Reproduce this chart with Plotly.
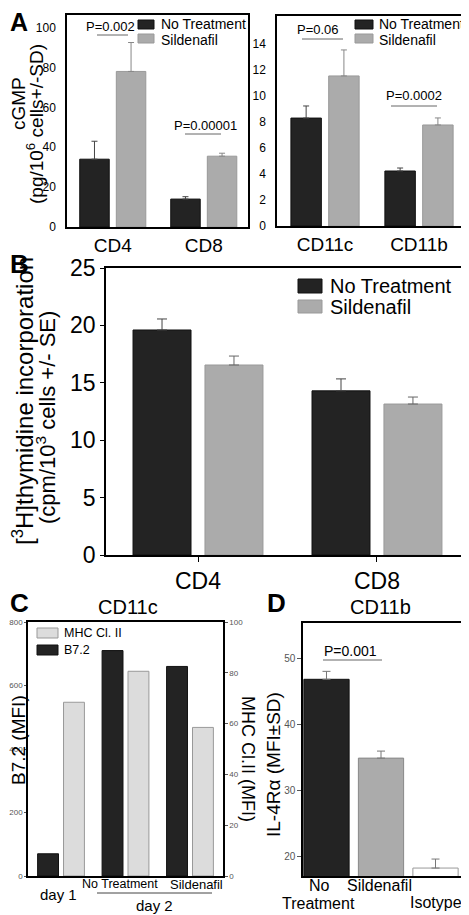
import plotly.graph_objects as go

# the page body has an 8 px default margin; the figure is sized so it fits the 469x915 window
PAGE_OFF = 8
W, H = 469 - PAGE_OFF, 915 - PAGE_OFF

# ---------------- data ----------------
# Panel A (left): cGMP in T cells
a_t_cats = ["CD4", "CD8"]
a_t_nt = [34, 14]
a_t_nt_err = [9, 1.2]
a_t_sil = [78, 35.5]
a_t_sil_err = [14.5, 1.5]

# Panel A (right): cGMP in myeloid cells
a_m_cats = ["CD11c", "CD11b"]
a_m_nt = [8.3, 4.23]
a_m_nt_err = [0.93, 0.23]
a_m_sil = [11.54, 7.77]
a_m_sil_err = [2.0, 0.54]

# Panel B: thymidine incorporation
b_cats = ["CD4", "CD8"]
b_nt = [19.6, 14.3]
b_nt_err = [0.96, 1.04]
b_sil = [16.55, 13.15]
b_sil_err = [0.78, 0.61]

# Panel C: CD11c, B7.2 (left axis) and MHC Cl. II (right axis)
c_cats = ["day 1", "No Treatment", "Sildenafil"]
c_b72 = [70, 710, 660]
c_mhc = [68.4, 80.6, 58.5]

# Panel D: CD11b IL-4Ra
d_cats = ["No Treatment", "Sildenafil", "Isotype"]
d_vals = [46.8, 34.9, 18.3]
d_err = [1.2, 1.06, 1.36]

BLACK = "#232323"
GREY = "#ababab"
LIGHT = "#dcdcdc"
FONT = "Liberation Sans, Arial, sans-serif"


def px(x):
    return (x - PAGE_OFF) / W


def py(y):
    return 1 - (y - PAGE_OFF) / H


fig = go.Figure()


def bar(x, y, err, color, line, errcolor, xa, ya, offset, width, caps=3):
    kw = {}
    if err is not None:
        kw["error_y"] = dict(type="data", array=err, arrayminus=[0] * len(err), symmetric=False,
                             color=errcolor, thickness=1, width=caps)
    fig.add_trace(go.Bar(x=x, y=y, marker=dict(color=color, line=dict(color=line, width=1)),
                         xaxis=xa, yaxis=ya, offset=offset, width=width, showlegend=False, **kw))


BW = 0.324
OFF_L = -0.363
OFF_R = 0.039

bar(a_t_cats, a_t_nt, a_t_nt_err, BLACK, "#111", "#444", "x", "y", OFF_L, BW)
bar(a_t_cats, a_t_sil, a_t_sil_err, GREY, "#999", "#888", "x", "y", OFF_R, BW)
bar(a_m_cats, a_m_nt, a_m_nt_err, BLACK, "#111", "#444", "x2", "y2", OFF_L, BW)
bar(a_m_cats, a_m_sil, a_m_sil_err, GREY, "#999", "#888", "x2", "y2", OFF_R, BW)
bar(b_cats, b_nt, b_nt_err, BLACK, "#111", "#444", "x3", "y3", OFF_L, BW, caps=5)
bar(b_cats, b_sil, b_sil_err, GREY, "#999", "#666", "x3", "y3", OFF_R, BW, caps=5)
bar(c_cats, c_b72, None, BLACK, "#111", None, "x4", "y4", OFF_L, BW)
bar(c_cats, c_mhc, None, LIGHT, "#999", None, "x4", "y5", OFF_R, BW)
fig.add_trace(go.Bar(x=d_cats, y=d_vals,
                     marker=dict(color=[BLACK, GREY, "white"], line=dict(color=["#111", "#888", "#999"], width=1)),
                     error_y=dict(type="data", array=d_err, arrayminus=[0, 0, 0], symmetric=False,
                                  color="#777", thickness=1, width=4),
                     xaxis="x5", yaxis="y6", offset=-0.415, width=0.83, showlegend=False))

axline = dict(showline=True, linecolor="black", linewidth=1.5, mirror=True, showgrid=False, zeroline=False,
              automargin=False)

fig.update_layout(
    width=W, height=H, margin=dict(l=0, r=0, t=0, b=0, autoexpand=False),
    paper_bgcolor="white", plot_bgcolor="white",
    barmode="overlay", font=dict(family=FONT, color="black"),
    showlegend=False,
    xaxis=dict(domain=[px(67), px(248)], anchor="y", range=[-0.503, 1.486], type="category",
               tickfont=dict(size=19), ticks="", **axline),
    yaxis=dict(domain=[py(227), py(15)], anchor="x", range=[0, 106.3], tickvals=[0, 20, 40, 60, 80, 100],
               tickfont=dict(size=12), ticks="", ticklabelstandoff=7, **axline),
    xaxis2=dict(domain=[px(277), px(466)], anchor="y2", range=[-0.511, 1.5], type="category",
                tickfont=dict(size=19), ticks="", **axline),
    yaxis2=dict(domain=[py(226), py(16)], anchor="x2", range=[0, 16.15], tickvals=list(range(0, 15, 2)),
                tickfont=dict(size=12), ticks="", ticklabelstandoff=7, **axline),
    xaxis3=dict(domain=[px(106), px(467)], anchor="y3", range=[-0.514, 1.503], type="category",
                tickfont=dict(size=23), ticks="outside", ticklen=5, tickcolor="black", **axline),
    yaxis3=dict(domain=[py(555), py(268)], anchor="x3", range=[0, 25], tickvals=[0, 5, 10, 15, 20, 25],
                tickfont=dict(size=23), ticks="outside", ticklen=4, tickcolor="black", **axline),
    xaxis4=dict(domain=[px(28), px(223)], anchor="y4", range=[-0.512, 2.512], type="category",
                showticklabels=False, ticks="", **axline),
    yaxis4=dict(domain=[py(876), py(622)], anchor="x4", range=[0, 800], tickvals=[0, 200, 400, 600, 800],
                tickfont=dict(size=8, color="#555"), ticks="outside", ticklen=2,
                tickcolor="#555", **axline),
    yaxis5=dict(overlaying="y4", side="right", anchor="x4", range=[0, 100], tickvals=[0, 20, 40, 60, 80, 100],
                tickfont=dict(size=8, color="#555"), ticks="outside", ticklen=3,
                tickcolor="#555", showline=True, linecolor="black", linewidth=1.5, showgrid=False,
                zeroline=False, automargin=False),
    xaxis5=dict(domain=[px(303), px(468)], anchor="y6", range=[-0.431, 2.596], type="category",
                showticklabels=False, ticks="", **axline),
    yaxis6=dict(domain=[py(876), py(623)], anchor="x5", range=[17.1, 55.3], tickvals=[20, 30, 40, 50],
                tickfont=dict(size=10, color="#555"), ticks="outside", ticklen=4,
                tickcolor="#555", **axline),
)

ann = []
shapes = []


def text(x, y, s, size, angle=0, xanchor="center", color="black", bold=False):
    if bold:
        s = "<b>" + s + "</b>"
    ann.append(dict(x=px(x), y=py(y), xref="paper", yref="paper", text=s, showarrow=False,
                    font=dict(size=size, family=FONT, color=color), textangle=angle,
                    xanchor=xanchor, yanchor="middle"))


def hline(x0, x1, y, color="#666", width=1):
    shapes.append(dict(type="line", xref="paper", yref="paper", x0=px(x0), x1=px(x1), y0=py(y), y1=py(y),
                       line=dict(color=color, width=width)))


def swatch(x0, x1, y0, y1, fill, line):
    shapes.append(dict(type="rect", xref="paper", yref="paper", x0=px(x0), x1=px(x1), y0=py(y1), y1=py(y0),
                       fillcolor=fill, line=dict(color=line, width=1)))


# panel letters
text(19, 22, "A", 25, bold=True)
text(19, 264, "B", 26, bold=True)
text(19, 603, "C", 26, bold=True)
text(276, 603, "D", 26, bold=True)

# Panel A axis title
text(19, 104, "cGMP", 19, angle=-90)
text(35, 124, "(pg/10<sup>6</sup> cells+/-SD)", 19, angle=-90)

# Panel A p-values
text(110, 27, "P=0.002", 13)
hline(97, 128, 35)
text(205, 125, "P=0.00001", 13)
hline(185, 221, 134)
text(318, 29, "P=0.06", 13)
hline(302, 343, 39)
text(414, 95, "P=0.0002", 13)
hline(391, 437, 106)

# Panel A legends
swatch(138, 154, 20, 29, BLACK, "#111")
swatch(138, 154, 34, 43, GREY, "#999")
text(159, 24.5, "No Treatment", 14, xanchor="left")
text(159, 39.5, "Sildenafil", 14, xanchor="left")
swatch(355, 373, 20, 29, BLACK, "#111")
swatch(355, 373, 34, 43, GREY, "#999")
text(377, 24.5, "No Treatment", 14, xanchor="left")
text(377, 39.5, "Sildenafil", 14, xanchor="left")

# Panel B
text(23, 401, "[<sup>3</sup>H]thymidine incorporation", 24, angle=-90)
text(46, 418, "(cpm/10<sup>3</sup> cells +/- SE)", 22, angle=-90)
swatch(298, 322, 279, 293, BLACK, "#111")
swatch(298, 322, 300, 313, GREY, "#999")
text(328, 286, "No Treatment", 20, xanchor="left")
text(328, 307, "Sildenafil", 20, xanchor="left")

# Panel C
text(128, 607, "CD11c", 20)
text(18, 740, "B7.2 (MFI)", 19, angle=-90)
text(248, 759, "MHC Cl.II (MFI)", 18, angle=90)
swatch(37, 58, 628, 638, LIGHT, "#999")
swatch(37, 58, 645, 655, BLACK, "#111")
text(62, 633, "MHC Cl. II", 12.5, xanchor="left")
text(62, 650, "B7.2", 12.5, xanchor="left")
text(58, 894, "day 1", 15)
text(120, 884, "No Treatment", 12.5)
text(196, 884, "Sildenafil", 13)
hline(97, 212, 893, color="#444")
text(154, 905, "day 2", 15)

# Panel D
text(380, 607, "CD11b", 20)
text(273, 765, "IL-4Rα (MFI±SD)", 19, angle=-90)
text(350, 651, "P=0.001", 14)
hline(323, 382, 660)
text(319, 885, "No", 16)
text(318, 903, "Treatment", 16)
text(379, 885, "Sildenafil", 16)
text(436, 902, "Isotype", 16)

fig.update_layout(annotations=ann, shapes=shapes)
fig.write_html("out.html")
